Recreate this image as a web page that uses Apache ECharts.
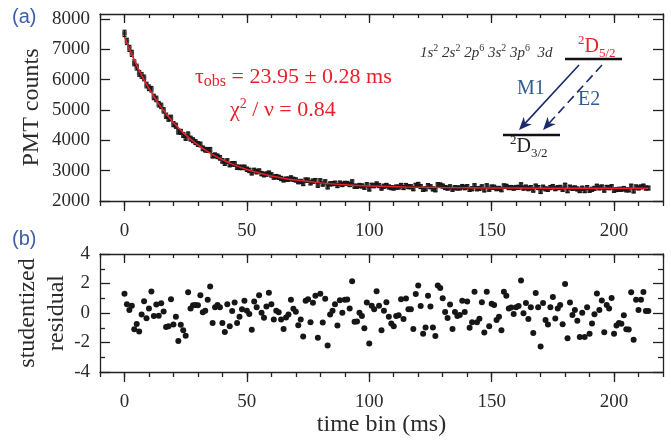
<!DOCTYPE html>
<html><head><meta charset="utf-8">
<script src="https://cdn.jsdelivr.net/npm/echarts@6/dist/echarts.min.js"></script>
<style>html,body{margin:0;padding:0;background:#fff}#c{width:671px;height:446px}</style>
</head><body><div id="c"></div>
<script>
// ---------------- data ----------------
const timeBins = [0,1,2,3,4,5,6,7,8,9,10,11,12,13,14,15,16,17,18,19,20,21,22,23,24,25,26,27,28,29,30,31,32,33,34,35,36,37,38,39,40,41,42,43,44,45,46,47,48,49,50,51,52,53,54,55,56,57,58,59,60,61,62,63,64,65,66,67,68,69,70,71,72,73,74,75,76,77,78,79,80,81,82,83,84,85,86,87,88,89,90,91,92,93,94,95,96,97,98,99,100,101,102,103,104,105,106,107,108,109,110,111,112,113,114,115,116,117,118,119,120,121,122,123,124,125,126,127,128,129,130,131,132,133,134,135,136,137,138,139,140,141,142,143,144,145,146,147,148,149,150,151,152,153,154,155,156,157,158,159,160,161,162,163,164,165,166,167,168,169,170,171,172,173,174,175,176,177,178,179,180,181,182,183,184,185,186,187,188,189,190,191,192,193,194,195,196,197,198,199,200,201,202,203,204,205,206,207,208,209,210,211,212,213,214];

const pmtCounts = [
7522,7257,7027,6863,6552,6410,6205,6137,6055,5820,
5730,5680,5428,5362,5188,5134,4985,4808,4711,4741,
4532,4479,4285,4277,4176,4078,4195,4055,4003,3941,
3879,3862,3735,3688,3681,3685,3490,3508,3473,3422,
3320,3247,3318,3198,3223,3222,3113,3107,3106,3111,
3047,3009,2927,3009,2964,2987,2902,2865,2887,2919,
2859,2788,2803,2782,2742,2694,2721,2718,2759,2715,
2693,2634,2644,2575,2690,2686,2597,2655,2672,2518,
2664,2556,2631,2464,2563,2571,2587,2509,2590,2542,
2581,2577,2542,2630,2488,2485,2511,2497,2451,2536,
2394,2519,2503,2561,2510,2424,2488,2513,2463,2438,
2427,2459,2459,2512,2443,2510,2471,2470,2403,2518,
2545,2476,2382,2400,2506,2469,2397,2368,2536,2527,
2492,2444,2423,2467,2385,2440,2427,2429,2476,2437,
2473,2383,2402,2503,2401,2412,2467,2364,2501,2386,
2460,2456,2404,2416,2370,2498,2485,2442,2444,2423,
2445,2450,2534,2424,2458,2405,2443,2357,2491,2443,
2312,2456,2399,2384,2442,2476,2405,2438,2449,2384,
2520,2337,2457,2415,2432,2396,2341,2422,2340,2440,
2352,2386,2417,2487,2431,2463,2356,2448,2436,2471,
2352,2378,2387,2384,2412,2366,2365,2489,2330,2464,
2430,2464,2490,2427,2427];

const residuals = [
1.3,0.6,0.2,0.5,-1.1,-0.75,-1.25,-0.1,0.8,-0.35,
0.3,1.45,-0.2,0.57,-0.18,0.66,0.1,-0.95,-0.9,0.94,
-0.78,-0.25,-1.9,-0.8,-1.17,-1.54,1.4,0.3,0.53,0.55,
0.53,1.2,0.05,0.16,0.9,1.8,-0.67,0.39,0.55,0.39,
-0.67,-1.29,0.6,-0.9,0.14,0.71,-0.67,-0.25,0.25,0.83,
0.16,-0.07,-1.13,0.78,0.39,1.2,0.02,-0.32,0.44,1.38,
0.6,-0.44,0.16,0.05,-0.44,-1.08,-0.3,-0.11,0.9,0.28,
0.09,-0.83,-0.44,-1.59,0.83,0.94,-0.62,0.69,1.17,-1.68,
1.31,-0.64,0.97,-2.2,-0.11,0.16,0.6,-0.85,0.87,0.02,
0.89,0.92,0.3,2.16,-0.6,-0.57,0.02,-0.2,-1.03,0.71,
-2.06,0.5,0.25,1.47,0.5,-1.17,0.16,0.73,-0.25,-0.71,
-0.89,-0.2,-0.16,0.94,-0.41,0.99,0.25,0.25,-1.08,1.28,
1.86,0.48,-1.4,-0.99,1.17,0.44,-0.99,-1.56,1.86,1.7,
1.0,0.07,-0.34,0.57,-1.08,0.07,-0.2,-0.14,0.83,0.07,
0.78,-1.0,-0.62,1.44,-0.62,-0.39,0.73,-1.33,1.44,-0.89,
0.62,0.55,-0.48,-0.25,-1.17,1.44,1.17,0.3,0.37,-0.07,
0.39,0.48,2.2,-0.02,0.67,-0.41,0.39,-1.35,1.35,0.39,
-2.27,0.67,-0.48,-0.78,0.39,1.08,-0.37,0.3,0.55,-0.76,
1.97,-1.72,0.71,-0.14,0.21,-0.53,-1.63,0.02,-1.63,0.39,
-1.4,-0.71,-0.09,1.33,0.21,0.85,-1.31,0.55,0.3,1.01,
-1.4,-0.85,-0.67,-0.73,-0.16,-1.1,-1.12,1.4,-1.81,0.89,
0.21,0.89,1.42,0.14,0.14];

// fitted exponential curve, read at selected times
const fitTimes  = [0,2,4,6,8,10,12,14,16,18,20,22,24,26,28,30,33,36,40,45,50,55,60,65,70,80,90,100,115,130,150,170,190,214];
const fitCounts = [7410,7010,6642,6304,5993,5707,5443,5201,4978,4773,4585,4411,4252,4105,3970,3846,3678,3530,3359,3182,3038,2922,2827,2751,2688,2597,2536,2497,2461,2442,2429,2424,2421,2420];

const xMajorTicks = [0,50,100,150,200];
const xMinorTicks = [-10,0,10,20,30,40,50,60,70,80,90,100,110,120,130,140,150,160,170,180,190,200,210,220];
const countTicks = [2000,3000,4000,5000,6000,7000,8000];
const residMajorTicks = [-4,-2,0,2,4];
const residMinorTicks = [-3,-1,1,3];

// ---------------- chart ----------------
const chart = echarts.init(document.getElementById('c'), null, {renderer:'canvas'});
const SERIF = 'Liberation Serif';
const AX = '#222';
const LBL = {fontFamily: SERIF, fontSize: 19, color: '#2b2b2b', formatter: v => String(v)};
const lineStyle = {color: AX, width: 1.3};

function xAx(grid, pos, opts) {
  return Object.assign({
    type: 'value', gridIndex: grid, position: pos, min: -10, max: 220,
    splitLine: {show: false},
    axisLine: {show: true, onZero: false, lineStyle: lineStyle},
    axisLabel: {show: false},
  }, opts);
}
function yAx(grid, pos, min, max, opts) {
  return Object.assign({
    type: 'value', gridIndex: grid, position: pos, min: min, max: max,
    splitLine: {show: false},
    axisLine: {show: true, onZero: false, lineStyle: lineStyle},
    axisLabel: {show: false},
  }, opts);
}
const hiddenLine = {show: false, onZero: false};

const xAxes = [];
[0, 1].forEach(g => {
  xAxes.push(xAx(g, 'bottom', {
    axisTick: {show: true, inside: false, length: 10, customValues: xMajorTicks, lineStyle: lineStyle},
    axisLabel: Object.assign({show: true, customValues: xMajorTicks, margin: 21}, LBL),
    name: g === 1 ? 'time bin (ms)' : '',
    nameLocation: 'middle', nameGap: 41, nameMoveOverlap: false,
    nameTextStyle: {fontFamily: SERIF, fontSize: 24, color: '#2b2b2b'}
  }));
  xAxes.push(xAx(g, 'bottom', {
    axisLine: hiddenLine,
    axisTick: {show: true, inside: false, length: 5, customValues: xMinorTicks, lineStyle: lineStyle}
  }));
  xAxes.push(xAx(g, 'top', {
    axisTick: {show: true, inside: true, length: 9, customValues: xMajorTicks, lineStyle: lineStyle}
  }));
  xAxes.push(xAx(g, 'top', {
    axisLine: hiddenLine,
    axisTick: {show: true, inside: true, length: 4, customValues: xMinorTicks, lineStyle: lineStyle}
  }));
});

const yAxes = [
  yAx(0, 'left', 2000, 8160, {
    axisTick: {show: true, inside: true, length: 10, customValues: countTicks, lineStyle: lineStyle},
    axisLabel: Object.assign({show: true, customValues: countTicks, margin: 10}, LBL),
    name: 'PMT counts', nameLocation: 'middle', nameGap: 56, nameMoveOverlap: false,
    nameTextStyle: {fontFamily: SERIF, fontSize: 24, color: '#2b2b2b'}
  }),
  yAx(0, 'right', 2000, 8160, {
    axisTick: {show: true, inside: true, length: 10, customValues: countTicks, lineStyle: lineStyle}
  }),
  yAx(1, 'left', -4, 4, {
    axisTick: {show: true, inside: true, length: 10, customValues: residMajorTicks, lineStyle: lineStyle},
    axisLabel: Object.assign({show: true, customValues: residMajorTicks, margin: 10}, LBL),
    name: 'studentized\nresidual', nameLocation: 'middle', nameGap: 29, nameMoveOverlap: false,
    nameTextStyle: {fontFamily: SERIF, fontSize: 24, lineHeight: 29, color: '#2b2b2b'}
  }),
  yAx(1, 'left', -4, 4, {
    axisLine: hiddenLine,
    axisTick: {show: true, inside: true, length: 5, customValues: residMinorTicks, lineStyle: lineStyle}
  }),
  yAx(1, 'right', -4, 4, {
    axisTick: {show: true, inside: true, length: 10, customValues: residMajorTicks, lineStyle: lineStyle}
  }),
  yAx(1, 'right', -4, 4, {
    axisLine: hiddenLine,
    axisTick: {show: true, inside: true, length: 5, customValues: residMinorTicks, lineStyle: lineStyle}
  })
];

const countData = timeBins.map((t, i) => [t, pmtCounts[i], Math.sqrt(pmtCounts[i])]);
const residData = timeBins.map((t, i) => [t, residuals[i]]);
const fitData = fitTimes.map((t, i) => [t, fitCounts[i]]);

const DARK = '#161616';
const RED = '#e8212b';
const NAVY = '#1b2a6b';
const STEEL = '#2f5b8f';
const BLUE_LBL = '#3d5ea8';

// arrow helpers (annotation drawing)
function arrowHead(tip, dir, len, half) {
  const L = Math.hypot(dir[0], dir[1]);
  const u = [dir[0] / L, dir[1] / L];
  const p = [u[1], -u[0]];
  const base = [tip[0] - u[0] * len, tip[1] - u[1] * len];
  const notch = [tip[0] - u[0] * len * 0.7, tip[1] - u[1] * len * 0.7];
  return [tip, [base[0] + p[0] * half, base[1] + p[1] * half], notch, [base[0] - p[0] * half, base[1] - p[1] * half]];
}
const m1Start = [579, 65], m1Tip = [519, 130];
const e2Start = [602, 65], e2Tip = [543, 130];
const m1Dir = [m1Tip[0] - m1Start[0], m1Tip[1] - m1Start[1]];
const e2Dir = [e2Tip[0] - e2Start[0], e2Tip[1] - e2Start[1]];
function shaftEnd(tip, dir, back) {
  const L = Math.hypot(dir[0], dir[1]);
  return [tip[0] - dir[0] / L * back, tip[1] - dir[1] / L * back];
}
const m1End = shaftEnd(m1Tip, m1Dir, 9), e2End = shaftEnd(e2Tip, e2Dir, 9);

const option = {
  animation: false,
  backgroundColor: '#fff',
  grid: [
    {left: 100, top: 14, width: 563, height: 187},
    {left: 100, top: 254, width: 563, height: 118}
  ],
  xAxis: xAxes,
  yAxis: yAxes,
  series: [
    {
      type: 'custom', xAxisIndex: 0, yAxisIndex: 0, data: countData, z: 3,
      renderItem: function (params, api) {
        const x = api.value(0), y = api.value(1), e = api.value(2);
        const p = api.coord([x, y]);
        const hi = api.coord([x, y + e]);
        const lo = api.coord([x, y - e]);
        const st = {stroke: DARK, lineWidth: 1.2};
        return {type: 'group', children: [
          {type: 'line', shape: {x1: p[0], y1: hi[1] - 0.5, x2: p[0], y2: lo[1] + 0.5}, style: st},
          {type: 'line', shape: {x1: p[0] - 2, y1: hi[1] - 0.5, x2: p[0] + 2, y2: hi[1] - 0.5}, style: st},
          {type: 'line', shape: {x1: p[0] - 2, y1: lo[1] + 0.5, x2: p[0] + 2, y2: lo[1] + 0.5}, style: st}
        ]};
      }
    },
    {
      type: 'scatter', xAxisIndex: 0, yAxisIndex: 0, data: countData.map(d => [d[0], d[1]]),
      symbol: 'rect', symbolSize: 4.5, itemStyle: {color: DARK}, z: 4
    },
    {
      type: 'line', xAxisIndex: 0, yAxisIndex: 0, data: fitData, smooth: 0.3,
      showSymbol: false, lineStyle: {color: RED, width: 1.5}, z: 5
    },
    {
      type: 'scatter', xAxisIndex: 4, yAxisIndex: 2, data: residData,
      symbol: 'circle', symbolSize: 6, itemStyle: {color: DARK, opacity: 1}
    }
  ],
  graphic: [
    {type: 'text', x: 12, y: 17, style: {text: '(a)', fontFamily: 'Liberation Sans', fontSize: 20, fill: BLUE_LBL, verticalAlign: 'middle'}},
    {type: 'text', x: 12, y: 239, style: {text: '(b)', fontFamily: 'Liberation Sans', fontSize: 20, fill: BLUE_LBL, verticalAlign: 'middle'}},
    {type: 'text', x: 195, y: 77, z: 10, style: {
      text: '{m|τ}{s|obs}{m| = 23.95 ± 0.28 ms}', align: 'left', verticalAlign: 'middle',
      rich: {
        m: {fontFamily: SERIF, fontSize: 22, lineHeight: 26, fill: RED, color: RED},
        s: {fontFamily: SERIF, fontSize: 16, lineHeight: 17, verticalAlign: 'bottom', fill: RED, color: RED}
      }
    }},
    {type: 'text', x: 230, y: 110, z: 10, style: {
      text: '{m|χ}{p|2}{m| / ν = 0.84}', align: 'left', verticalAlign: 'middle',
      rich: {
        m: {fontFamily: SERIF, fontSize: 22, lineHeight: 26, fill: RED, color: RED},
        p: {fontFamily: SERIF, fontSize: 14, lineHeight: 13, verticalAlign: 'top', fill: RED, color: RED}
      }
    }},
    {type: 'text', x: 420, y: 53, z: 10, style: {
      text: '{i|1s}{p|2}{i| 2s}{p|2}{i| 2p}{p|6}{i| 3s}{p|2}{i| 3p}{p|6}{i|  3d}', align: 'left', verticalAlign: 'middle',
      rich: {
        i: {fontFamily: SERIF, fontStyle: 'italic', fontSize: 15, lineHeight: 20, fill: '#333', color: '#333'},
        p: {fontFamily: SERIF, fontSize: 10, lineHeight: 10, verticalAlign: 'top', fill: '#333', color: '#333'}
      }
    }},
    {type: 'text', x: 578, y: 47, z: 10, style: {
      text: '{p|2}{d|D}{s|5/2}', align: 'left', verticalAlign: 'middle',
      rich: {
        d: {fontFamily: SERIF, fontSize: 20, lineHeight: 26, fill: RED, color: RED},
        p: {fontFamily: SERIF, fontSize: 13, lineHeight: 12, verticalAlign: 'top', fill: RED, color: RED},
        s: {fontFamily: SERIF, fontSize: 13, lineHeight: 12, verticalAlign: 'bottom', fill: RED, color: RED}
      }
    }},
    {type: 'text', x: 510, y: 147, z: 10, style: {
      text: '{p|2}{d|D}{s|3/2}', align: 'left', verticalAlign: 'middle',
      rich: {
        d: {fontFamily: SERIF, fontSize: 20, lineHeight: 26, fill: '#222', color: '#222'},
        p: {fontFamily: SERIF, fontSize: 13, lineHeight: 12, verticalAlign: 'top', fill: '#222', color: '#222'},
        s: {fontFamily: SERIF, fontSize: 13, lineHeight: 12, verticalAlign: 'bottom', fill: '#222', color: '#222'}
      }
    }},
    {type: 'line', z: 10, shape: {x1: 565, y1: 59, x2: 622, y2: 59}, style: {stroke: '#111', lineWidth: 2.5}},
    {type: 'line', z: 10, shape: {x1: 503, y1: 135, x2: 560, y2: 135}, style: {stroke: '#111', lineWidth: 2.5}},
    {type: 'line', z: 10, shape: {x1: m1Start[0], y1: m1Start[1], x2: m1End[0], y2: m1End[1]}, style: {stroke: NAVY, lineWidth: 1.6}},
    {type: 'polygon', z: 10, shape: {points: arrowHead(m1Tip, m1Dir, 13, 5.5)}, style: {fill: NAVY}},
    {type: 'line', z: 10, shape: {x1: e2Start[0], y1: e2Start[1], x2: e2End[0], y2: e2End[1]}, style: {stroke: NAVY, lineWidth: 1.6, lineDash: [9, 5]}},
    {type: 'polygon', z: 10, shape: {points: arrowHead(e2Tip, e2Dir, 13, 5.5)}, style: {fill: NAVY}},
    {type: 'text', x: 517, y: 89, z: 10, style: {text: 'M1', fontFamily: SERIF, fontSize: 20, fill: STEEL, verticalAlign: 'middle'}},
    {type: 'text', x: 578, y: 100, z: 10, style: {text: 'E2', fontFamily: SERIF, fontSize: 20, fill: STEEL, verticalAlign: 'middle'}}
  ]
};
chart.setOption(option);
</script>
</body></html>
